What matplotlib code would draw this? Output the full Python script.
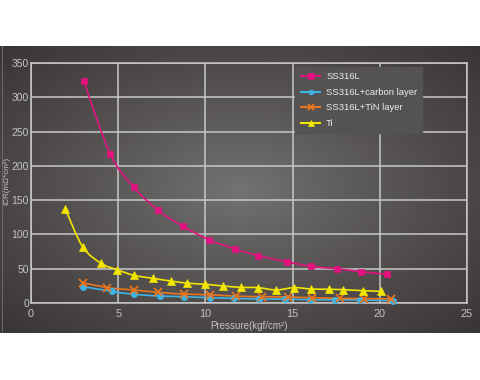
import numpy as np
import matplotlib
matplotlib.use("Agg")
import matplotlib.pyplot as plt
from matplotlib.path import Path
from matplotlib.patches import PathPatch
from matplotlib.lines import Line2D

# ---- data ----
ss_x = [3.02, 4.55, 5.89, 7.30, 8.70, 10.22, 11.70, 13.04, 14.70, 16.04, 17.53, 18.94, 20.43]
ss_y = [324, 217, 169, 135, 112, 92, 79, 69, 60, 53.5, 50, 45.7, 41.8]

c_x = [3.0, 4.63, 5.89, 7.38, 8.76, 10.24, 11.64, 13.09, 14.56, 16.0, 17.43, 18.86, 20.78]
c_y = [23.8, 17, 12.7, 10.2, 9.2, 7.7, 6.8, 5.8, 5.8, 4.8, 4.8, 4.4, 3.4]

tin_x = [2.98, 4.38, 5.89, 7.26, 8.79, 10.26, 11.78, 13.25, 14.74, 16.13, 17.72, 19.09, 20.62]
tin_y = [29.6, 22.4, 19, 15.6, 13, 12, 10, 9.2, 8.7, 7.7, 6.8, 6.3, 6.3]

ti_x = [1.97, 2.96, 4.01, 4.93, 5.91, 6.98, 8.03, 8.94, 10.0, 11.03, 12.04, 13.03, 14.05, 15.1,
        16.07, 17.09, 17.91, 19.04, 20.09]
ti_y = [137, 82, 58, 48.6, 40.3, 36, 32, 29, 27.2, 24.8, 22.8, 22.4, 19, 22.4,
        20.4, 20, 19.4, 18, 17]

labels = ["SS316L", "SS316L+carbon layer", "SS316L+TiN layer", "Ti"]
colors = ["#e2127f", "#3db4e6", "#e8761e", "#f2e600"]
markers = ["s", "o", "x", "^"]
msizes = [5, 4.5, 5.5, 6]

x_ticks = [0, 5, 10, 15, 20, 25]
y_ticks = [0, 50, 100, 150, 200, 250, 300, 350]

plt.rcParams['font.family'] = ['Liberation Sans', 'DejaVu Sans']

W, H = 480, 380
fig = plt.figure(figsize=(4.8, 3.8), dpi=100)
fig.patch.set_facecolor("white")

# background gradient panel
bg = fig.add_axes([0, (H - 333) / H, 1, (333 - 46) / H])
bg.set_axis_off()
yy, xx = np.mgrid[-1:1:200j, -1:1:300j]
r = np.sqrt(xx ** 2 + yy ** 2) / np.sqrt(2)
r = np.clip(r, 0, 1)
c0 = np.array([0x74, 0x72, 0x72]) / 255
c1 = np.array([0x3a, 0x35, 0x35]) / 255
t = r[..., None] ** 0.9
img = c0 * (1 - t) + c1 * t
bg.imshow(img, aspect="auto", extent=[0, 1, 0, 1], interpolation="bilinear")
bg.set_xlim(0, 1)
bg.set_ylim(0, 1)
bg.axvline(1.5 / W, color="#6a6666", linewidth=0.8)

ax = fig.add_axes([31 / W, (H - 303) / H, 436 / W, 240 / H])
ax.set_facecolor("none")
ax.set_xlim(0, 25)
ax.set_ylim(0, 350)
ax.set_xticks(x_ticks)
ax.set_yticks(y_ticks)
ax.grid(True, color="#c9c9c9", linewidth=1.1)
for s in ax.spines.values():
    s.set_color("#c9c9c9")
    s.set_linewidth(1.1)
ax.tick_params(axis="y", length=0, colors="#c4c4c4", labelsize=7.5, pad=1.5)
ax.tick_params(axis="x", length=0, colors="#c4c4c4", labelsize=7.8, pad=4)
ax.set_xlabel("Pressure(kgf/cm\u00b2)", color="#c4c4c4", fontsize=7, labelpad=2)
fig.text(6 / W, (H - 181) / H, "ICR(m\u03a9*cm\u00b2)", color="#c4c4c4", fontsize=5.8,
         rotation=90, ha="center", va="center")


def smooth_path(xs, ys):
    pts = np.column_stack([xs, ys])
    n = len(pts)
    verts = [pts[0]]
    codes = [Path.MOVETO]
    for i in range(n - 1):
        p0 = pts[i - 1] if i > 0 else pts[i]
        p1 = pts[i]
        p2 = pts[i + 1]
        p3 = pts[i + 2] if i + 2 < n else pts[i + 1]
        q1 = p1 + (p2 - p0) / 6
        q2 = p2 - (p3 - p1) / 6
        verts += [q1, q2, p2]
        codes += [Path.CURVE4] * 3
    return Path(verts, codes)


series = [(ss_x, ss_y), (c_x, c_y), (tin_x, tin_y), (ti_x, ti_y)]
handles = []
for (xs, ys), lab, col, mk, ms in zip(series, labels, colors, markers, msizes):
    patch = PathPatch(smooth_path(xs, ys), facecolor="none", edgecolor=col,
                      linewidth=1.2, transform=ax.transData, zorder=3)
    ax.add_patch(patch)
    mew = 1.3 if mk == "x" else 0.5
    ax.plot(xs, ys, linestyle="none", marker=mk, color=col, markersize=ms,
            markeredgewidth=mew, zorder=4, clip_on=False)
    handles.append(Line2D([], [], color=col, marker=mk, markersize=ms - 1,
                          linewidth=1.5, markeredgewidth=mew))

leg = ax.legend(handles, labels, loc="upper left", bbox_to_anchor=(0.6, 0.995),
                frameon=True, fontsize=6.8, handlelength=2.1, labelspacing=0.7,
                borderpad=0.55, handletextpad=0.6, borderaxespad=0.3, fancybox=False)
leg.get_frame().set_facecolor("#555252")
leg.get_frame().set_edgecolor("#555252")
leg.get_frame().set_alpha(1)
for txt in leg.get_texts():
    txt.set_color("#ececec")

fig.savefig("out.png", dpi=100, facecolor="white")
